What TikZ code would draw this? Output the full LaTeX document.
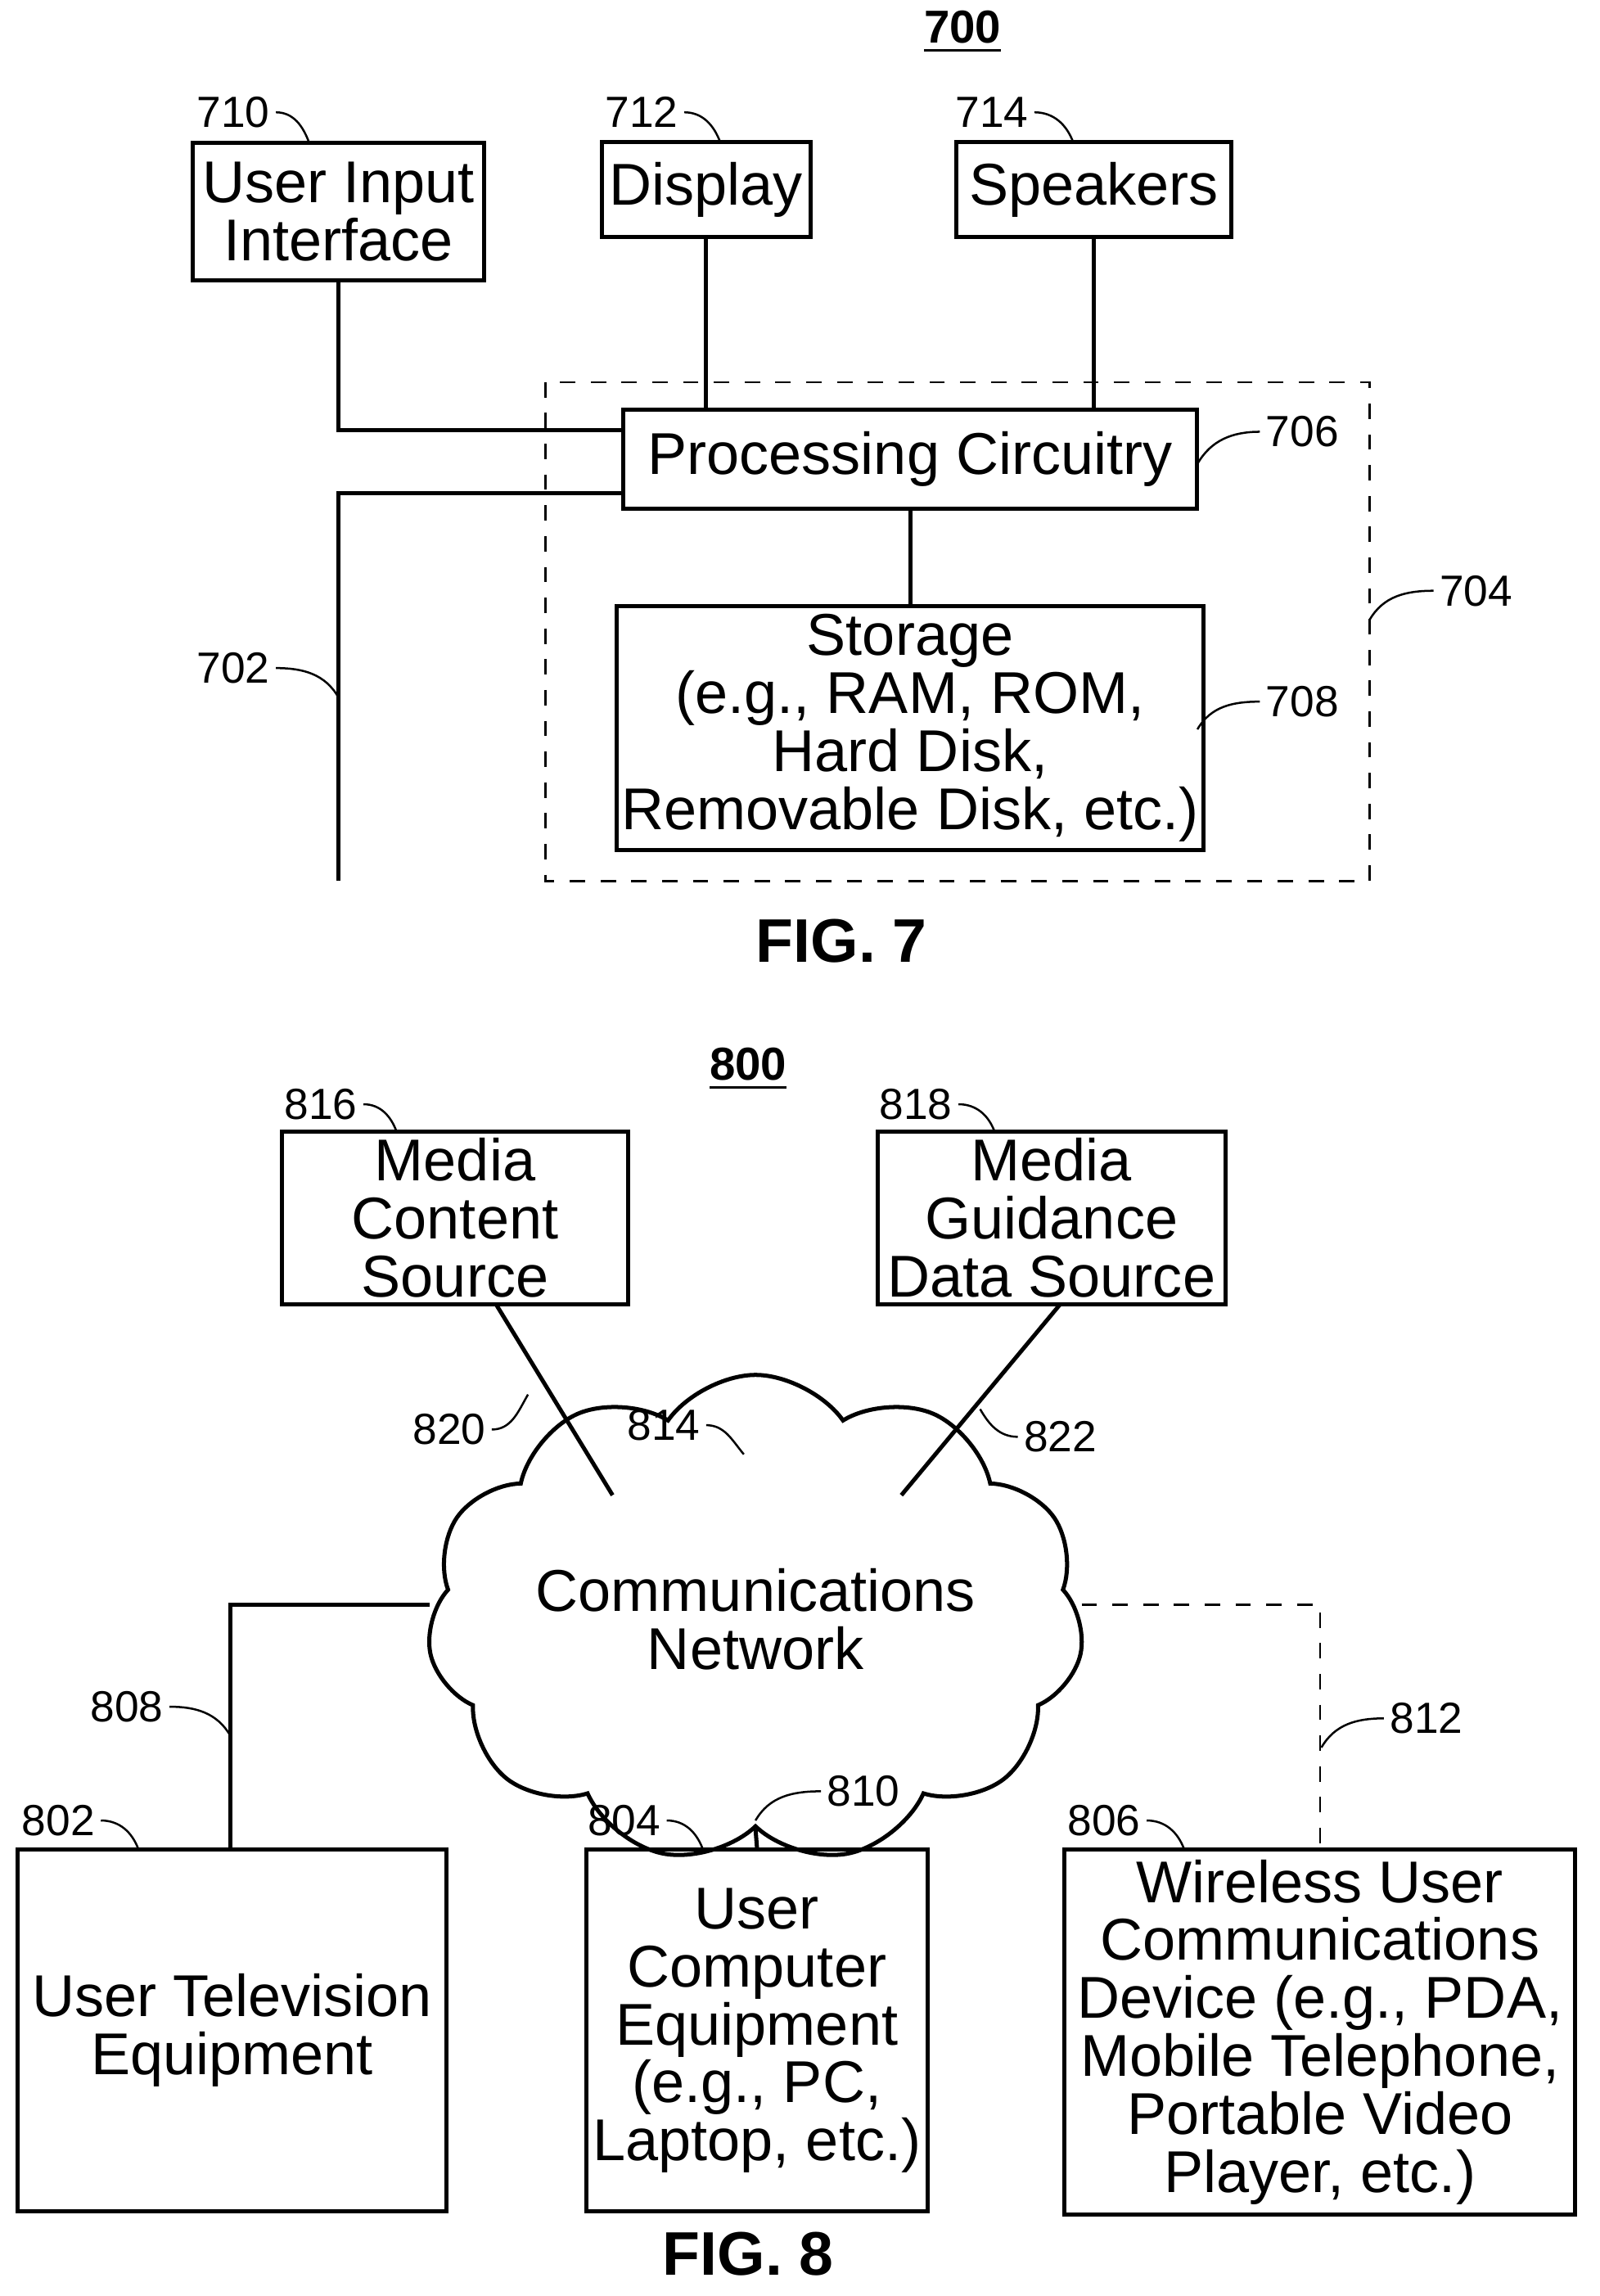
\documentclass[tikz,border=0pt]{standalone}
\usepackage{fontspec}
\setmainfont{Liberation Sans}
\usetikzlibrary{positioning,shapes.symbols}
\tikzset{
  box/.style={draw, thick, inner sep=1pt, align=center, font=\fontsize{11.5}{11.3}\selectfont},
  num/.style={inner sep=1pt, font=\fontsize{8.5}{10}\selectfont},
  title/.style={font=\bfseries\fontsize{9}{10}\selectfont},
  lead/.style={thin},
  wire/.style={thick},
}
\begin{document}
\begin{tikzpicture}[x=0.01cm,y=-0.01cm]
  \useasboundingbox (0,0) rectangle (1097,1574);
  % FIG. 7
  \node[title] (t700) at (660,22) {\underline{700}};
  \node[box, minimum width=2cm, minimum height=0.94cm] (uii) at (232,145) {User Input\\Interface};
  \node[box, minimum width=1.43cm, minimum height=0.65cm] (disp) at (484,130) {Display};
  \node[box, minimum width=1.88cm, minimum height=0.65cm] (spk) at (750,130) {Speakers};
  \node[box, minimum width=3.93cm, minimum height=0.68cm] (proc) at (624,315) {Processing Circuitry};
  \node[box, minimum width=3.93cm, minimum height=1.67cm] (stor) at (624,499) {Storage\\(e.g., RAM, ROM,\\Hard Disk,\\Removable Disk, etc.)};
  \draw[thin, dashed] (374,262) rectangle (939,604);
  \coordinate (busend) at (232,604);

  \draw[wire] (uii.south) |- (proc.west |- 0,295);
  \draw[wire] (disp.south) -- (disp.south |- proc.north);
  \draw[wire] (spk.south) -- (spk.south |- proc.north);
  \draw[wire] (proc.west |- 0,338) -| (busend);
  \draw[wire] (proc.south) -- (stor.north);

  \node[num] (l710) at (160,77) {710};
  \node[num] (l712) at (440,77) {712};
  \node[num] (l714) at (680,77) {714};
  \node[num] (l706) at (893,296) {706};
  \node[num] (l704) at (1012,405) {704};
  \node[num] (l708) at (893,481) {708};
  \node[num] (l702) at (160,458) {702};
  \draw[lead] (l710.east) to[out=0,in=110] (212,98);
  \draw[lead] (l712.east) to[out=0,in=110] (494,98);
  \draw[lead] (l714.east) to[out=0,in=110] (736,98);
  \draw[lead] (l706.west) to[out=180,in=60] (821,318);
  \draw[lead] (l704.west) to[out=180,in=60] (939,425);
  \draw[lead] (l708.west) to[out=180,in=60] (821,500);
  \draw[lead] (l702.east) to[out=0,in=120] (232,478);
  \node[title, font=\bfseries\fontsize{12}{13}\selectfont] (f7) at (577,645) {FIG. 7};

  % FIG. 8
  \node[title] (t800) at (513,733) {\underline{800}};
  \node[box, minimum width=2.37cm, minimum height=1.18cm] (mcs) at (312,835) {Media\\Content\\Source};
  \node[box, minimum width=2.38cm, minimum height=1.18cm] (mgd) at (721,835) {Media\\Guidance\\Data Source};
  \node[cloud, draw, thick, cloud puffs=11, cloud puff arc=110, aspect=1.5,
        minimum width=3.2cm, minimum height=2.25cm, align=center, inner sep=0pt,
        font=\fontsize{11.5}{11.3}\selectfont] (net) at (518,1110) {Communications\\Network};
  \node[box, minimum width=2.94cm, minimum height=2.48cm] (tv) at (159,1392) {User Television\\Equipment};
  \node[box, minimum width=2.34cm, minimum height=2.48cm] (pc) at (519,1392) {User\\Computer\\Equipment\\(e.g., PC,\\Laptop, etc.)};
  \node[box, minimum width=3.5cm, minimum height=2.5cm] (wl) at (905,1393) {Wireless User\\Communications\\Device (e.g., PDA,\\Mobile Telephone,\\Portable Video\\Player, etc.)};

  \coordinate (c816) at (340,894);
  \coordinate (c818) at (727,894);
  \coordinate (nw) at (420,1025);
  \coordinate (ne) at (618,1025);
  \draw[wire] (c816) -- (nw);
  \draw[wire] (c818) -- (ne);
  \draw[wire] (net.west |- 0,1100) -| (tv.north -| 158,0);
  \draw[wire] (net.south) -- (pc.north);
  \draw[thin, dashed] (net.east |- 0,1100) -| (wl.north);

  \node[num] (l816) at (220,757) {816};
  \node[num] (l818) at (628,757) {818};
  \node[num] (l820) at (308,980) {820};
  \node[num] (l822) at (727,985) {822};
  \node[num] (l814) at (455,977) {814};
  \node[num] (l808) at (87,1170) {808};
  \node[num] (l810) at (592,1228) {810};
  \node[num] (l812) at (978,1178) {812};
  \node[num] (l802) at (40,1248) {802};
  \node[num] (l804) at (428,1248) {804};
  \node[num] (l806) at (757,1248) {806};
  \draw[lead] (l816.east) to[out=0,in=110] (272,776);
  \draw[lead] (l818.east) to[out=0,in=110] (682,776);
  \draw[lead] (l820.east) to[out=0,in=-120] (362,956);
  \draw[lead] (l822.west) to[out=180,in=-60] (672,966);
  \draw[lead] (l814.east) to[out=0,in=130] (510,997);
  \draw[lead] (l808.east) to[out=0,in=120] (158,1190);
  \draw[lead] (l810.west) to[out=180,in=60] (518,1248);
  \draw[lead] (l812.west) to[out=180,in=60] (906,1198);
  \draw[lead] (l802.east) to[out=0,in=110] (95,1268);
  \draw[lead] (l804.east) to[out=0,in=110] (482,1268);
  \draw[lead] (l806.east) to[out=0,in=110] (812,1268);
  \node[title, font=\bfseries\fontsize{12}{13}\selectfont] (f8) at (513,1545) {FIG. 8};
\end{tikzpicture}
\end{document}
